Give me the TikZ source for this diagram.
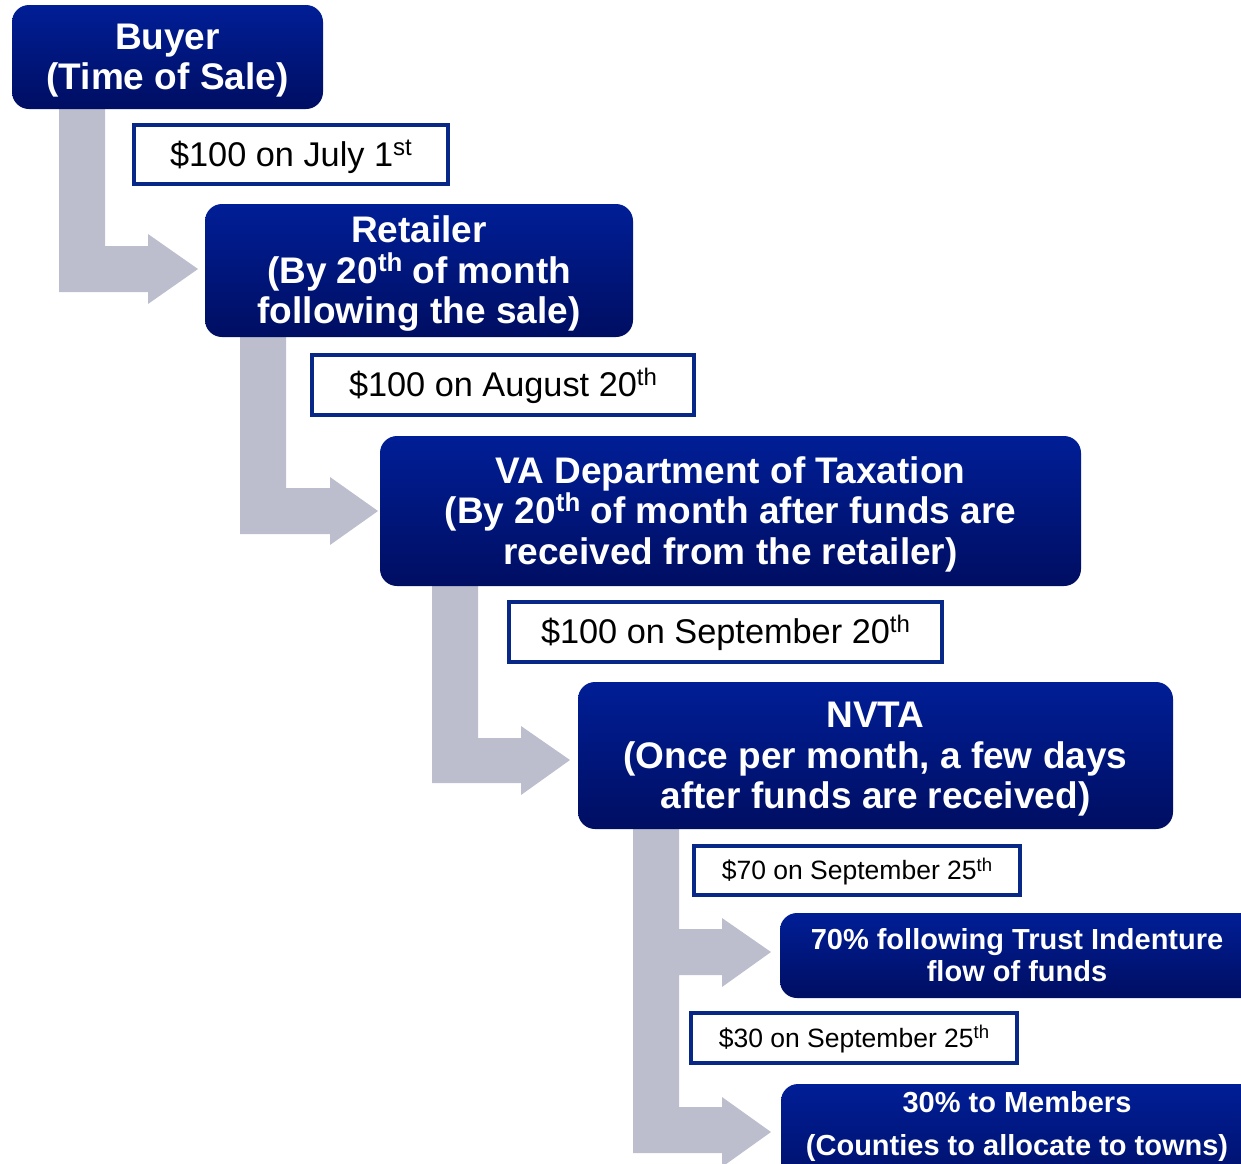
\documentclass[tikz,border=0pt]{standalone}
\usepackage{fontspec}
\setmainfont{Liberation Sans}
\definecolor{navytop}{RGB}{0,30,150}
\definecolor{navybot}{RGB}{0,14,98}
\definecolor{labelblue}{RGB}{8,40,135}
\definecolor{arrowgray}{RGB}{188,190,206}
\newcommand\sups[1]{\raisebox{0.32em}{\scalebox{0.7}{#1}}}
\newcommand\firststrut{\rule{0pt}{33pt}}
\newcommand\amtstrut{\rule{0pt}{31pt}}
\newcommand\smallstrut{\rule{0pt}{24pt}}
\tikzset{
 stagebox/.style={rounded corners=17pt, top color=navytop, bottom color=navybot, draw=none, text=white, align=center, inner sep=0pt},
 bigtext/.style={font=\fontsize{37}{40.5}\selectfont\bfseries},
 midtext/.style={font=\fontsize{29}{32}\selectfont\bfseries},
 amountbox/.style={draw=labelblue, line width=4pt, fill=white, align=center, inner sep=0pt, text=black},
 amounttext/.style={font=\fontsize{34.3}{40}\selectfont},
 smalltext/.style={font=\fontsize{26.5}{30}\selectfont},
 flowarrow/.style={fill=arrowgray, draw=none},
}
\begin{document}
\begin{tikzpicture}[x=1pt,y=-1pt]
\useasboundingbox (0,0) rectangle (1241,1163);
\clip (0,0) rectangle (1241,1163);
% block arrows
\fill[flowarrow] (59,100) -- (105,100) -- (105,246) -- (148,246) -- (148,234) -- (198,269) -- (148,304) -- (148,292) -- (59,292) -- cycle;
\fill[flowarrow] (240,330) -- (286,330) -- (286,488) -- (330,488) -- (330,477) -- (378,511) -- (330,545) -- (330,534) -- (240,534) -- cycle;
\fill[flowarrow] (432,580) -- (478,580) -- (478,738) -- (521,738) -- (521,726) -- (570,760) -- (521,795) -- (521,783) -- (432,783) -- cycle;
\fill[flowarrow] (633,820) -- (679,820) -- (679,929) -- (722,929) -- (722,918) -- (771,952) -- (722,987) -- (722,975) -- (679,975) -- (679,1107) -- (722,1107) -- (722,1097) -- (771,1132) -- (722,1167) -- (722,1153) -- (633,1153) -- cycle;
% stages
\node[stagebox, bigtext, minimum width=311pt, minimum height=104pt] (buyer) at (167.5,57) {\firststrut Buyer\\(Time of Sale)};
\node[stagebox, bigtext, minimum width=428pt, minimum height=133pt] (retailer) at (419,270.5) {\firststrut Retailer\\(By 20\sups{th} of month\\following the sale)};
\node[stagebox, bigtext, minimum width=701pt, minimum height=150pt] (vatax) at (730.5,511) {\firststrut VA Department of Taxation\\(By 20\sups{th} of month after funds are\\received from the retailer)};
\node[stagebox, bigtext, minimum width=595pt, minimum height=147pt] (nvta) at (875.5,755.5) {\firststrut NVTA\\(Once per month, a few days\\after funds are received)};
\node[stagebox, minimum width=480pt, minimum height=85pt] (trust) at (1020,955.5) {};
\node[midtext, text=white, align=center, inner sep=0pt] (trusttext) at (1017,955.5) {70\% following Trust Indenture\\flow of funds};
\node[stagebox, minimum width=480pt, minimum height=120pt] (members) at (1021,1144) {};
\node[midtext, text=white, align=center, inner sep=0pt, font=\fontsize{29}{43.5}\selectfont\bfseries] (memberstext) at (1017,1126.5) {30\% to Members\\(Counties to allocate to towns)};
% amounts
\node[amountbox, amounttext, minimum width=314pt, minimum height=59pt] (amt1) at (291,154.5) {\amtstrut\$100 on July 1\sups{st}};
\node[amountbox, amounttext, minimum width=382pt, minimum height=60pt] (amt2) at (503,385) {\amtstrut\$100 on August 20\sups{th}};
\node[amountbox, amounttext, minimum width=433pt, minimum height=60pt] (amt3) at (725.5,632) {\amtstrut\$100 on September 20\sups{th}};
\node[amountbox, smalltext, minimum width=326pt, minimum height=49pt] (amt4) at (857,870.5) {\smallstrut\$70 on September 25\sups{th}};
\node[amountbox, smalltext, minimum width=326pt, minimum height=50pt] (amt5) at (854,1038) {\smallstrut\$30 on September 25\sups{th}};
\end{tikzpicture}
\end{document}
